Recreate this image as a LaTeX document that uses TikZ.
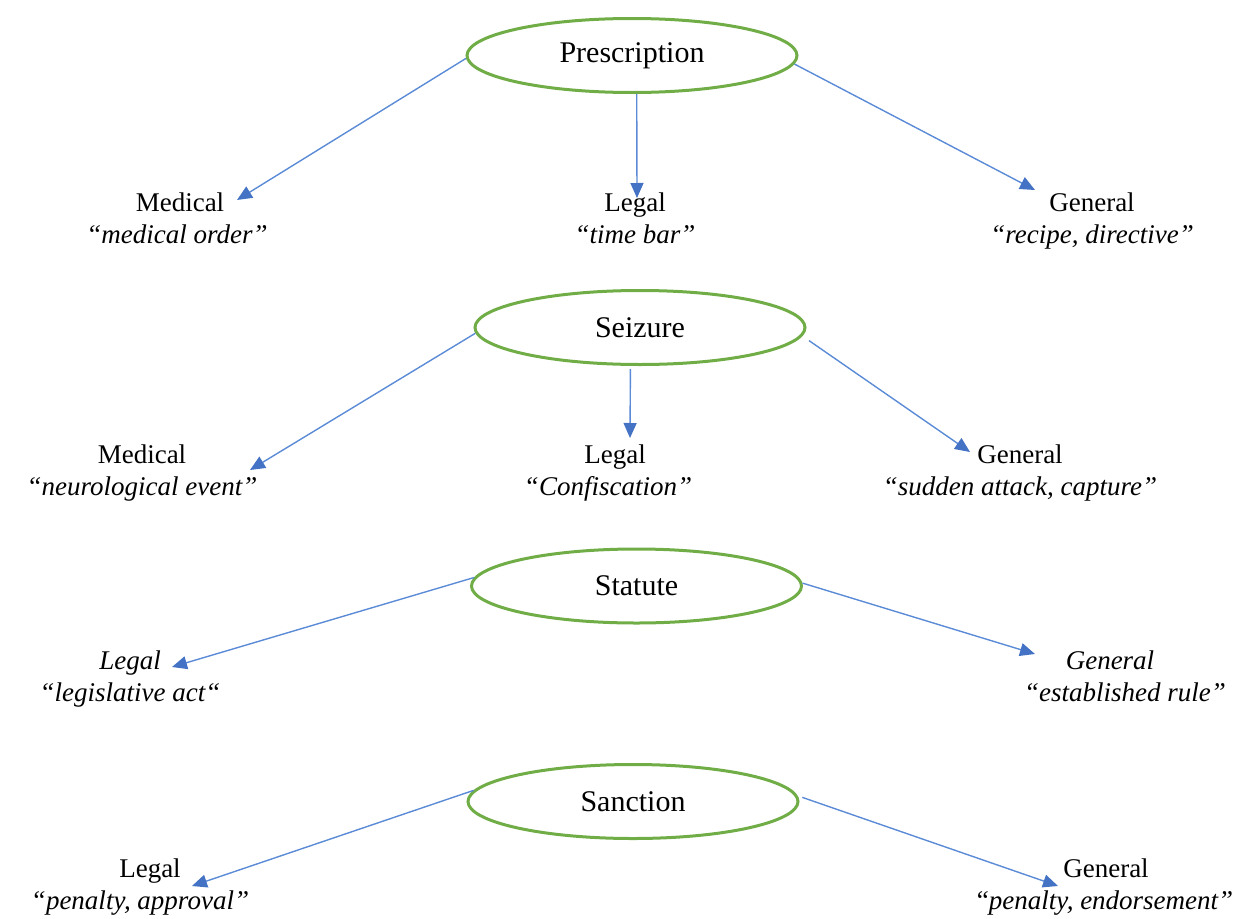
\documentclass[tikz,border=0pt]{standalone}
\usepackage{fontspec}
\setmainfont{LiberationSerif}[Extension=.ttf,UprightFont=*-Regular,ItalicFont=*-Italic,BoldFont=*-Bold]
\usetikzlibrary{shapes.geometric,arrows.meta}
\definecolor{eg}{HTML}{70AD47}
\definecolor{ab}{HTML}{4472C4}
\definecolor{al}{HTML}{5B8BD6}
\begin{document}
\begin{tikzpicture}[x=1pt,y=-1pt,
  term/.style={draw=eg,line width=3pt,ellipse,inner sep=0pt,
    minimum width=330pt,minimum height=74pt,font=\fontsize{30}{34}\selectfont},
  head/.style={anchor=base,inner sep=0pt,font=\fontsize{27}{32}\selectfont},
  gloss/.style={anchor=base,inner sep=0pt,font=\fontsize{27}{32}\selectfont\itshape},
  conn/.style={draw=al,line width=1.4pt,-{Triangle[length=15pt,width=13pt,color=ab]}}]
\useasboundingbox (0,0) rectangle (1247,918);

% ellipses
\node[term] (pre) at (632,55.5) {Prescription};
\node[term] (sei) at (640,327.5) {Seizure};
\node[term] (sta) at (636.5,586) {Statute};
\node[term] (san) at (633,801.5) {Sanction};

% row 1
\node[head]  (pmh) at (180,211) {Medical};
\node[gloss] (pmg) at (177,243) {“medical order”};
\node[head]  (plh) at (635,211) {Legal};
\node[gloss] (plg) at (635,243) {“time bar”};
\node[head]  (pgh) at (1092,211) {General};
\node[gloss] (pgg) at (1092,243) {“recipe, directive”};

% row 2
\node[head]  (smh) at (142,463) {Medical};
\node[gloss] (smg) at (142,495) {“neurological event”};
\node[head]  (slh) at (615,463) {Legal};
\node[gloss] (slg) at (608,495) {“Confiscation”};
\node[head]  (sgh) at (1020,463) {General};
\node[gloss] (sgg) at (1020,495) {“sudden attack, capture”};

% row 3
\node[gloss] (tlh) at (130,669) {Legal};
\node[gloss] (tlg) at (130,701) {“legislative act“};
\node[gloss] (tgh) at (1110,669) {General};
\node[gloss] (tgg) at (1125,701) {“established rule”};

% row 4
\node[head]  (alh) at (150,877) {Legal};
\node[gloss] (alg) at (140,909) {“penalty, approval”};
\node[head]  (agh) at (1106,877) {General};
\node[gloss] (agg) at (1105,909) {{\upshape “}penalty, endorsement”};

% arrow end points
\coordinate (e1) at (237,200);
\coordinate (e2) at (637,198);
\coordinate (e3) at (1035,190);
\coordinate (e4) at (250,470);
\coordinate (e5) at (630,438);
\coordinate (e6) at (970,452);
\coordinate (e7) at (172,667);
\coordinate (e8) at (1035,654);
\coordinate (e9) at (192,886);
\coordinate (e10) at (1058,886);

\draw[conn] (pre.181.6) -- (e1);
\draw[conn] (pre.277.6 |- pre.south) -- (e2);
\draw[conn] (pre.357.7) -- (e3);
\draw[conn] (sei.182.6) -- (e4);
\draw[conn,shorten <=3pt] (sei.256.1 |- sei.south) -- (e5);
\draw[conn,shorten <=8pt] (sei.357.5) -- (e6);
\draw[conn] (sta.177.9) -- (e7);
\draw[conn] (sta.1.7) -- (e8);
\draw[conn] (san.176) -- (e9);
\draw[conn,shorten <=5pt] (san.2.2) -- (e10);
\end{tikzpicture}
\end{document}
